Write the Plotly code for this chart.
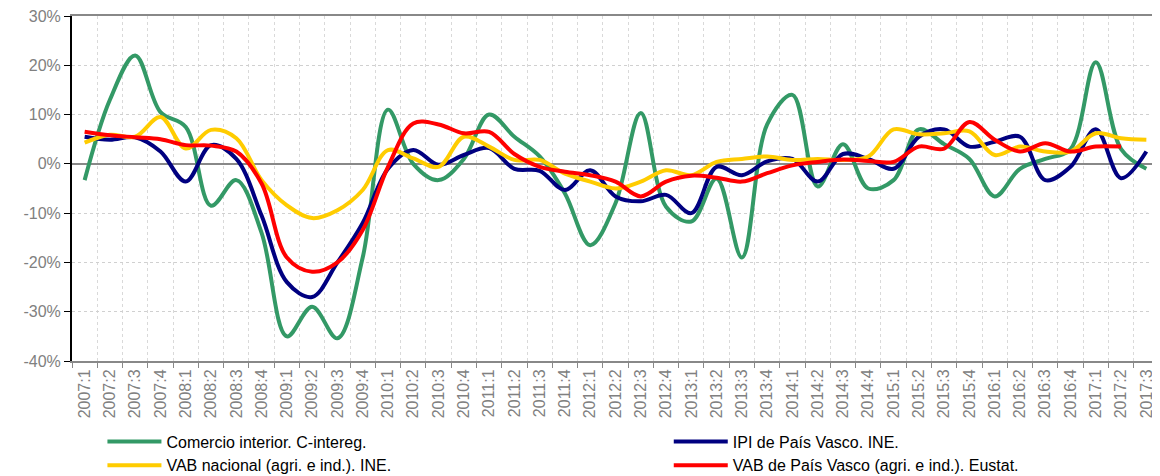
import plotly.graph_objects as go

quarters = [
    "2007:1", "2007:2", "2007:3", "2007:4",
    "2008:1", "2008:2", "2008:3", "2008:4",
    "2009:1", "2009:2", "2009:3", "2009:4",
    "2010:1", "2010:2", "2010:3", "2010:4",
    "2011:1", "2011:2", "2011:3", "2011:4",
    "2012:1", "2012:2", "2012:3", "2012:4",
    "2013:1", "2013:2", "2013:3", "2013:4",
    "2014:1", "2014:2", "2014:3", "2014:4",
    "2015:1", "2015:2", "2015:3", "2015:4",
    "2016:1", "2016:2", "2016:3", "2016:4",
    "2017:1", "2017:2", "2017:3",
]

comercio = [
    -3.3, 13.0, 22.0, 10.5, 7.5, -8.5, -3.3, -14.0,
    -35.0, -29.0, -35.4, -19.0, 11.0, 0.0, -3.3, 1.0,
    10.0, 5.5, 1.5, -6.0, -16.5, -8.0, 10.3, -8.7,
    -11.7, -3.0, -19.0, 8.0, 14.0, -4.6, 4.0, -5.0,
    -3.3, 7.0, 4.0, 1.0, -6.6, -1.0, 1.0, 3.0,
    20.6, 3.0, -1.0,
]

ipi = [
    5.5, 4.9, 5.4, 2.5, -3.6, 3.8, 1.0, -10.5,
    -24.0, -27.0, -20.0, -12.0, -1.0, 2.8, -0.2, 1.8,
    3.2, -1.0, -1.4, -5.3, -1.3, -6.6, -7.6, -6.3,
    -10.0, -0.6, -2.3, 0.5, 1.0, -3.6, 2.0, 1.0,
    -1.0, 5.5, 7.0, 3.5, 4.5, 5.5, -3.3, -0.6,
    7.0, -2.9, 2.5,
]

vab_nacional = [
    4.3, 5.9, 5.5, 9.5, 3.1, 6.9, 5.2, -3.3,
    -8.4, -11.0, -9.4, -5.3, 2.8, 1.1, -0.6, 5.5,
    3.5, 0.8, 0.8, -2.0, -3.6, -5.0, -3.6, -1.3,
    -2.3, 0.4, 1.0, 1.5, 0.8, 1.0, 0.8, 1.5,
    7.0, 6.0, 6.2, 6.6, 1.8, 3.5, 2.5, 2.5,
    6.2, 5.2, 4.9,
]

vab_pv = [
    6.5, 5.8, 5.4, 5.0, 3.8, 3.7, 2.5, -4.0,
    -19.0, -21.9, -20.0, -13.4, -0.6, 8.2, 8.0, 6.2,
    6.5, 2.0, -0.6, -1.6, -2.3, -3.6, -6.6, -3.6,
    -2.4, -2.8, -3.6, -1.9, -0.3, 0.4, 0.9, 0.6,
    0.4, 3.5, 3.1, 8.5, 4.9, 2.5, 4.2, 2.5,
    3.5, 3.5, None,
]

y_ticks = [-40, -30, -20, -10, 0, 10, 20, 30]
y_tick_text = ["-40%", "-30%", "-20%", "-10%", "0%", "10%", "20%", "30%"]

series = [
    ("Comercio interior. C-intereg.", comercio, "#339966", "legend"),
    ("IPI de País Vasco. INE.", ipi, "#000080", "legend2"),
    ("VAB nacional (agri. e ind.). INE.", vab_nacional, "#ffcc00", "legend"),
    ("VAB de País Vasco (agri. e ind.). Eustat.", vab_pv, "#ff0000", "legend2"),
]

fig = go.Figure()

for name, values, color, leg in series:
    fig.add_trace(go.Scatter(
        x=quarters,
        y=values,
        name=name,
        mode="lines",
        line=dict(color=color, width=4, shape="spline", smoothing=1),
        legend=leg,
        hovertemplate="<b>%{x}</b><br>%{y:.1f}%<extra></extra>"
    ))

# right border of the plot area
fig.add_shape(
    type="line", xref="paper", yref="paper",
    x0=1, x1=1, y0=0, y1=1,
    line=dict(color="#888888", width=2)
)

legend_style = dict(
    orientation="v",
    yanchor="top",
    xanchor="left",
    y=-0.184,
    font=dict(family="Liberation Sans, Arial", size=16, color="#000000"),
    bgcolor="rgba(0,0,0,0)",
    tracegroupgap=0,
    itemwidth=54,
)

# page body has an 8px margin, so the figure is sized to fit what is left
fig.update_layout(
    width=1152,
    height=468,
    autosize=False,
    template="plotly_white",
    paper_bgcolor="#ffffff",
    plot_bgcolor="#ffffff",
    margin=dict(l=64, r=1, t=8, b=115, autoexpand=False),
    font=dict(family="Liberation Sans, Arial", size=16, color="#808080"),
    showlegend=True,
    legend=dict(legend_style, x=0.028),
    legend2=dict(legend_style, x=0.549),
    xaxis=dict(
        type="category",
        range=[-0.5, len(quarters) - 0.5],
        tickson="boundaries",
        ticks="outside",
        ticklen=5,
        tickcolor="#888888",
        tickangle=-90,
        tickfont=dict(size=16, color="#808080"),
        showgrid=True,
        gridcolor="#d9d9d9",
        griddash="dot",
        gridwidth=1,
        showline=True,
        linecolor="#888888",
        linewidth=2,
        mirror=True,
        zeroline=False,
    ),
    yaxis=dict(
        range=[-40, 30],
        tickvals=y_ticks,
        ticktext=y_tick_text,
        ticklabeloverflow="allow",
        ticks="outside",
        ticklen=6,
        tickcolor="#000000",
        tickfont=dict(size=16, color="#808080"),
        showgrid=True,
        gridcolor="#d0d0d0",
        griddash="dot",
        gridwidth=1,
        showline=True,
        linecolor="#000000",
        linewidth=2,
        zeroline=True,
        zerolinecolor="#888888",
        zerolinewidth=1.5,
    ),
)

fig.write_html("out.html")
